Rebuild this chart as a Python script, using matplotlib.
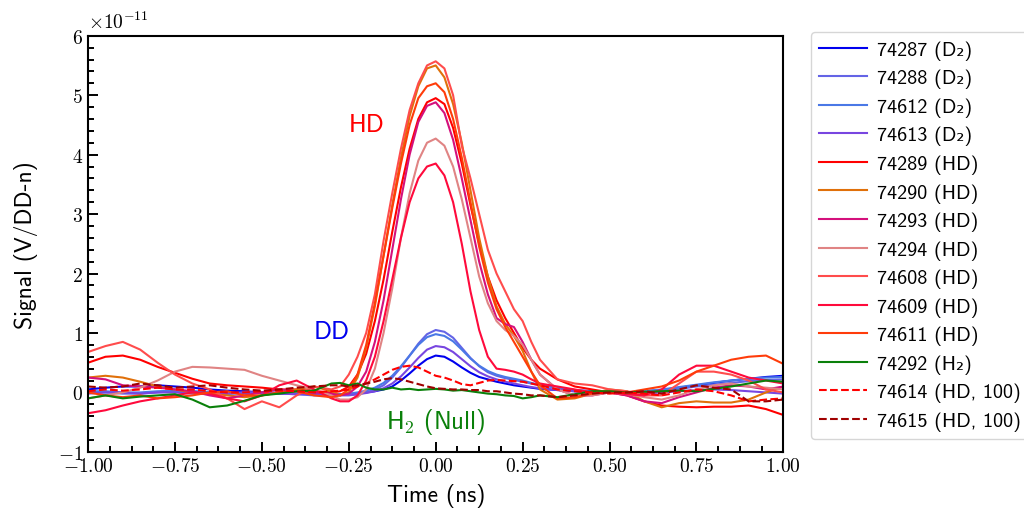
import numpy as np
import matplotlib
matplotlib.use('Agg')
import matplotlib.pyplot as plt
from matplotlib.ticker import MultipleLocator, FuncFormatter

plt.rcParams['mathtext.fontset'] = 'cm'
plt.rcParams['font.family'] = ['cmss10', 'DejaVu Sans']
plt.rcParams['axes.unicode_minus'] = False

# time axis (ns): coarse on the wings, finer around the peak
t = np.array([-1.0, -0.95, -0.9, -0.85, -0.8, -0.75, -0.7, -0.65, -0.6, -0.55, -0.5, -0.45, -0.4, -0.35, -0.3,
              -0.275, -0.25, -0.225, -0.2, -0.175, -0.15, -0.125, -0.1, -0.075, -0.05, -0.025, 0.0,
              0.025, 0.05, 0.075, 0.1, 0.125, 0.15, 0.175, 0.2, 0.225, 0.25, 0.275, 0.3,
              0.35, 0.4, 0.45, 0.5, 0.55, 0.6, 0.65, 0.7, 0.75, 0.8, 0.85, 0.9, 0.95, 1.0])

# signals in units of 1e-11 V/DD-n
s74287 = [0.05, 0.08, 0.10, 0.10, 0.12, 0.10, 0.08, 0.05, 0.03, 0.02, 0.00, -0.02, -0.02, -0.03, -0.03,
          -0.03, -0.03, -0.02, 0.00, 0.02, 0.05, 0.10, 0.20, 0.32, 0.45, 0.56, 0.62,
          0.60, 0.52, 0.42, 0.33, 0.26, 0.22, 0.18, 0.15, 0.12, 0.10, 0.08, 0.06,
          0.04, 0.02, 0.01, 0.00, 0.00, 0.02, 0.04, 0.08, 0.12, 0.16, 0.20, 0.23, 0.26, 0.28]
s74288 = [0.00, 0.00, -0.02, -0.02, 0.00, 0.02, 0.02, 0.00, -0.02, 0.00, 0.00, -0.02, -0.03, -0.05, -0.05,
          -0.05, -0.05, -0.03, 0.00, 0.05, 0.12, 0.25, 0.42, 0.62, 0.82, 0.98, 1.05,
          1.02, 0.92, 0.75, 0.58, 0.44, 0.34, 0.28, 0.24, 0.21, 0.18, 0.15, 0.12,
          0.08, 0.04, 0.02, 0.00, -0.02, 0.00, 0.03, 0.06, 0.10, 0.13, 0.16, 0.19, 0.21, 0.22]
s74612 = [0.02, 0.02, 0.00, 0.00, 0.02, 0.03, 0.02, 0.00, -0.02, -0.02, 0.00, 0.00, -0.02, -0.03, -0.03,
          -0.03, -0.02, 0.00, 0.03, 0.08, 0.16, 0.28, 0.44, 0.62, 0.80, 0.93, 0.98,
          0.95, 0.86, 0.72, 0.57, 0.45, 0.36, 0.30, 0.26, 0.23, 0.20, 0.16, 0.13,
          0.08, 0.04, 0.02, 0.00, 0.00, 0.02, 0.05, 0.09, 0.13, 0.17, 0.20, 0.23, 0.25, 0.26]
s74613 = [-0.02, 0.00, 0.00, -0.02, 0.00, 0.00, -0.02, -0.03, -0.02, 0.00, 0.00, -0.02, -0.03, -0.03, -0.04,
          -0.04, -0.04, -0.03, -0.01, 0.02, 0.07, 0.15, 0.27, 0.42, 0.58, 0.72, 0.78,
          0.76, 0.68, 0.56, 0.44, 0.34, 0.27, 0.22, 0.18, 0.15, 0.12, 0.09, 0.07,
          0.04, 0.02, 0.00, 0.00, -0.02, -0.02, 0.00, 0.02, 0.04, 0.05, 0.04, 0.02, 0.00, -0.02]
s74289 = [0.50, 0.60, 0.62, 0.55, 0.43, 0.33, 0.23, 0.15, 0.12, 0.10, 0.08, 0.05, 0.05, 0.02, 0.00,
          0.02, 0.10, 0.30, 0.65, 1.20, 1.90, 2.70, 3.45, 4.10, 4.60, 4.88, 4.95,
          4.85, 4.45, 3.85, 3.15, 2.50, 1.95, 1.55, 1.25, 1.00, 0.75, 0.55, 0.40,
          0.22, 0.10, 0.05, 0.00, -0.05, -0.15, -0.22, -0.24, -0.25, -0.24, -0.24, -0.22, -0.28, -0.38]
s74290 = [0.25, 0.28, 0.25, 0.18, 0.10, 0.05, 0.00, -0.02, -0.05, -0.08, -0.05, 0.00, 0.05, 0.10, 0.02,
          -0.05, 0.00, 0.25, 0.75, 1.45, 2.30, 3.15, 3.95, 4.65, 5.15, 5.45, 5.50,
          5.30, 4.85, 4.20, 3.40, 2.60, 1.95, 1.45, 1.15, 0.95, 0.70, 0.35, 0.05,
          -0.12, -0.10, -0.02, 0.05, 0.02, -0.15, -0.25, -0.18, -0.15, -0.17, -0.17, -0.12, 0.00, 0.10]
s74293 = [0.25, 0.22, 0.12, 0.10, 0.08, 0.05, 0.02, -0.05, -0.10, -0.05, 0.00, 0.05, 0.02, 0.00, -0.02,
          -0.05, -0.02, 0.10, 0.35, 0.85, 1.55, 2.40, 3.25, 4.00, 4.55, 4.82, 4.88,
          4.70, 4.25, 3.60, 2.90, 2.20, 1.65, 1.25, 1.15, 1.10, 0.85, 0.55, 0.30,
          0.05, -0.05, -0.05, 0.00, -0.05, -0.15, -0.18, -0.08, 0.00, 0.08, 0.12, 0.10, 0.05, 0.10]
s74294 = [-0.10, -0.05, 0.00, 0.08, 0.20, 0.35, 0.43, 0.42, 0.40, 0.38, 0.28, 0.20, 0.12, 0.05, -0.05,
          -0.12, -0.12, -0.08, 0.05, 0.40, 1.00, 1.75, 2.60, 3.35, 3.90, 4.20, 4.27,
          4.15, 3.80, 3.25, 2.60, 1.95, 1.50, 1.20, 1.05, 0.95, 0.80, 0.55, 0.30,
          0.05, -0.05, -0.05, 0.00, -0.03, -0.08, -0.12, -0.05, 0.05, 0.12, 0.15, 0.10, 0.08, 0.05]
s74608 = [0.68, 0.78, 0.85, 0.72, 0.50, 0.30, 0.15, 0.05, -0.10, -0.28, -0.15, -0.25, -0.05, 0.10, 0.05,
          0.10, 0.30, 0.60, 1.00, 1.65, 2.55, 3.35, 4.10, 4.75, 5.20, 5.50, 5.57,
          5.45, 5.00, 4.15, 3.60, 3.00, 2.40, 2.00, 1.70, 1.40, 1.20, 0.85, 0.55,
          0.22, 0.15, 0.12, 0.05, 0.02, -0.05, -0.05, 0.15, 0.35, 0.35, 0.30, 0.20, 0.05, 0.00]
s74609 = [-0.35, -0.30, -0.22, -0.15, -0.10, -0.05, 0.00, -0.02, -0.10, -0.15, -0.05, 0.12, 0.20, 0.05, -0.10,
          -0.15, -0.15, -0.05, 0.20, 0.60, 1.20, 1.90, 2.60, 3.20, 3.60, 3.80, 3.85,
          3.65, 3.20, 2.50, 1.70, 1.05, 0.60, 0.40, 0.38, 0.35, 0.30, 0.22, 0.15,
          0.10, 0.05, 0.00, 0.00, -0.03, -0.05, 0.05, 0.30, 0.45, 0.45, 0.35, 0.25, 0.20, 0.15]
s74611 = [0.00, -0.05, -0.08, -0.05, -0.10, -0.08, -0.05, 0.00, 0.02, -0.05, -0.05, 0.00, 0.02, -0.05, -0.08,
          -0.05, 0.05, 0.30, 0.80, 1.50, 2.30, 3.10, 3.85, 4.50, 4.95, 5.15, 5.20,
          5.05, 4.60, 3.95, 3.20, 2.45, 1.85, 1.40, 1.10, 0.85, 0.60, 0.35, 0.12,
          -0.10, -0.08, -0.02, 0.02, 0.00, 0.05, 0.10, 0.20, 0.35, 0.45, 0.55, 0.60, 0.62, 0.48]
s74292 = [-0.10, -0.05, -0.10, -0.07, -0.05, -0.03, -0.12, -0.25, -0.22, -0.14, -0.05, -0.02, 0.02, 0.03, 0.15,
          0.16, 0.12, 0.15, 0.08, 0.05, 0.05, 0.08, 0.05, 0.06, 0.04, 0.05, 0.06,
          0.05, 0.03, 0.04, 0.02, 0.00, -0.02, -0.03, -0.05, -0.06, -0.10, -0.08, -0.05,
          -0.08, -0.03, 0.02, 0.02, 0.00, 0.01, 0.02, 0.03, 0.02, 0.06, 0.10, 0.15, 0.20, 0.18]
s74614 = [0.02, 0.05, 0.03, 0.05, 0.08, 0.05, 0.05, 0.02, 0.00, 0.00, 0.02, 0.03, 0.02, 0.00, 0.02,
          0.03, 0.05, 0.10, 0.15, 0.22, 0.30, 0.38, 0.43, 0.45, 0.42, 0.35, 0.28,
          0.25, 0.20, 0.14, 0.12, 0.16, 0.20, 0.21, 0.20, 0.19, 0.18, 0.15, 0.12,
          0.05, 0.02, 0.00, -0.02, 0.00, -0.02, -0.05, 0.00, 0.05, 0.02, -0.05, -0.15, -0.12, -0.10]
s74615 = [0.10, 0.08, 0.10, 0.15, 0.12, 0.08, 0.10, 0.12, 0.08, 0.05, 0.03, 0.05, 0.08, 0.10, 0.12,
          0.12, 0.10, 0.12, 0.15, 0.18, 0.22, 0.24, 0.22, 0.18, 0.14, 0.10, 0.07,
          0.06, 0.05, 0.05, 0.04, 0.04, 0.02, 0.02, 0.00, -0.02, -0.03, -0.05, -0.05,
          -0.08, -0.05, -0.02, 0.00, 0.00, 0.02, -0.02, 0.05, 0.12, 0.08, 0.05, -0.15, -0.15, -0.12]

series = [
    (s74287, '74287 (D\u2082)', '#0000ee', '-'),
    (s74288, '74288 (D\u2082)', '#6464e6', '-'),
    (s74612, '74612 (D\u2082)', '#4a78e6', '-'),
    (s74613, '74613 (D\u2082)', '#7846e0', '-'),
    (s74289, '74289 (HD)', '#ff0000', '-'),
    (s74290, '74290 (HD)', '#e0700a', '-'),
    (s74293, '74293 (HD)', '#d4107c', '-'),
    (s74294, '74294 (HD)', '#e08484', '-'),
    (s74608, '74608 (HD)', '#ff4c4c', '-'),
    (s74609, '74609 (HD)', '#ff0a3c', '-'),
    (s74611, '74611 (HD)', '#ff3c0a', '-'),
    (s74292, '74292 (H\u2082)', '#0a800a', '-'),
    (s74614, '74614 (HD, 100)', '#ff0000', '--'),
    (s74615, '74615 (HD, 100)', '#a00000', '--'),
]

fig = plt.figure(figsize=(10.24, 5.10), dpi=100)
ax = fig.add_axes([0.086, 0.112, 0.679, 0.816])

for vals, lab, col, ls in series:
    ax.plot(t, vals, color=col, linestyle=ls, linewidth=1.5, label=lab)

ax.set_xlim(-1, 1)
ax.set_ylim(-1, 6)
ax.xaxis.set_major_locator(MultipleLocator(0.25))
ax.xaxis.set_minor_locator(MultipleLocator(0.0625))
ax.yaxis.set_major_locator(MultipleLocator(1))
ax.yaxis.set_minor_locator(MultipleLocator(0.2))
ax.xaxis.set_major_formatter(FuncFormatter(lambda v, p: r'$\mathrm{%.2f}$' % v))
ax.yaxis.set_major_formatter(FuncFormatter(lambda v, p: r'$\mathrm{%d}$' % round(v)))
ax.tick_params(which='both', direction='in', width=1.4, labelsize=14)
ax.tick_params(which='major', length=7)
ax.tick_params(which='minor', length=4)
for sp in ax.spines.values():
    sp.set_linewidth(1.5)
ax.text(0.0, 1.008, r'$\times\mathrm{10}^{\mathrm{-11}}$', transform=ax.transAxes,
        fontsize=14, ha='left', va='bottom')

ax.set_xlabel('Time (ns)', fontsize=17, labelpad=6)
ax.set_ylabel('Signal (V/DD-n)', fontsize=17, labelpad=14)

ax.text(-0.2, 4.5, 'HD', color='#ff0000', fontsize=18, ha='center', va='center')
ax.text(-0.3, 1.02, 'DD', color='#0000ee', fontsize=18, ha='center', va='center')
ax.text(0.0, -0.48, 'H$_\\mathsf{2}$ (Null)', color='#0a800a', fontsize=18, ha='center', va='center')

fig.legend(loc='upper left', bbox_to_anchor=(0.792, 0.935), borderaxespad=0,
           fontsize=14.5, handlelength=2.4, handletextpad=0.5, labelspacing=0.45, borderpad=0.4)

plt.savefig('out.png', dpi=100)
